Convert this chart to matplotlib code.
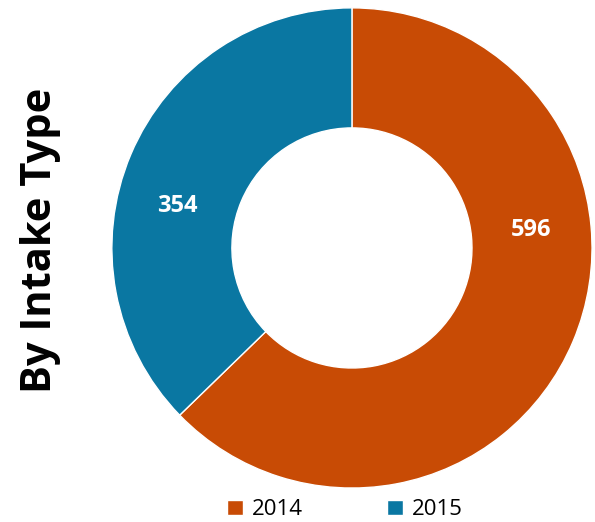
import numpy as np
import matplotlib.pyplot as plt

plt.rcParams['font.family'] = ['Open Sans', 'DejaVu Sans']

years = ['2014', '2015']
counts = [596, 354]
colors = ['#C84B05', '#0A77A2']
# angles (degrees) where Excel put the data labels
label_angles = [5.7, 166.5]

fig = plt.figure(figsize=(5.95, 5.22), dpi=100)
ax = fig.add_axes([0.188, 0.065, 0.807, 0.92])

wedges, _ = ax.pie(counts, colors=colors, startangle=90, counterclock=False,
                   radius=1.0, wedgeprops=dict(width=0.5, edgecolor='white', linewidth=1))

for val, ang in zip(counts, label_angles):
    r = 0.75
    x = r * np.cos(np.radians(ang))
    y = r * np.sin(np.radians(ang))
    ax.text(x, y, str(val), ha='center', va='center', color='white',
            fontsize=17, fontweight='bold')

ax.set_xlim(-1, 1)
ax.set_ylim(-1, 1)
ax.set_aspect('equal')
ax.axis('off')

fig.text(0.068, 0.54, 'By Intake Type', rotation=90, ha='center', va='center',
         fontsize=30, fontweight='bold')

fig.legend(wedges, years, loc='lower center', bbox_to_anchor=(0.58, -0.035), ncol=2,
           frameon=False, fontsize=16, handlelength=0.7, handleheight=0.7,
           columnspacing=3.8, handletextpad=0.4)

fig.savefig('out.png', dpi=100)
